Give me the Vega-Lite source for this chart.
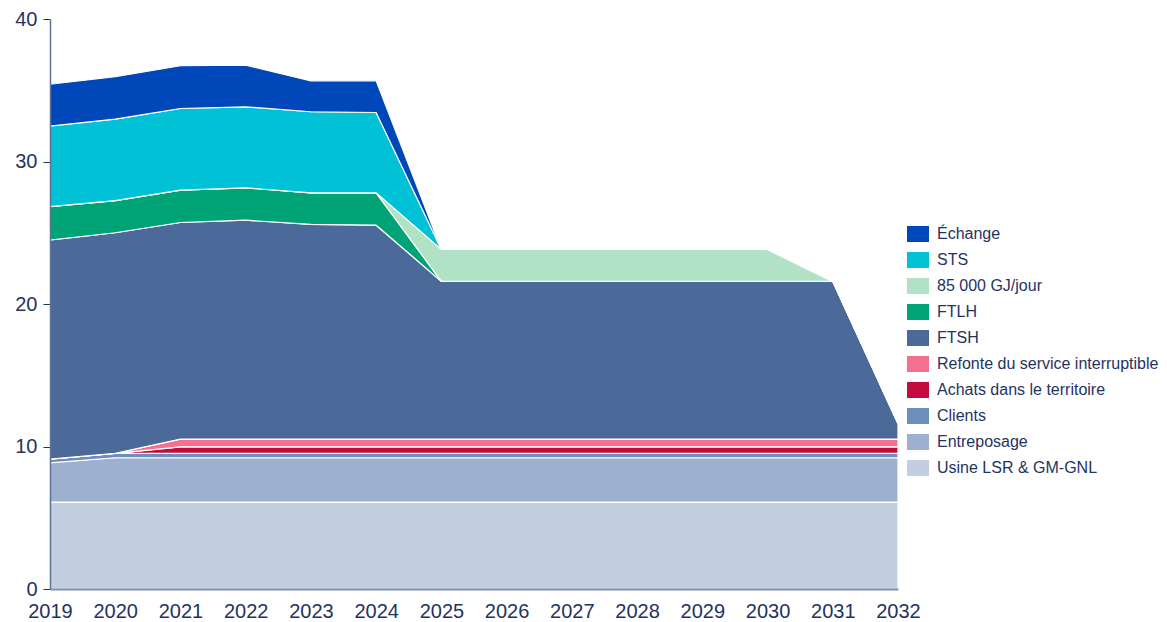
{
  "$schema": "https://vega.github.io/schema/vega-lite/v6.json",
  "width": 848,
  "height": 570,
  "autosize": {"type": "none"},
  "padding": {"left": 50, "top": 19, "right": 269, "bottom": 33},
  "background": "white",
  "config": {
    "view": {"stroke": null},
    "font": "Liberation Sans"
  },
  "data": {
    "values": [
      {"year": 2019, "series": "Usine LSR & GM-GNL", "value": 6.1},
      {"year": 2020, "series": "Usine LSR & GM-GNL", "value": 6.1},
      {"year": 2021, "series": "Usine LSR & GM-GNL", "value": 6.1},
      {"year": 2022, "series": "Usine LSR & GM-GNL", "value": 6.1},
      {"year": 2023, "series": "Usine LSR & GM-GNL", "value": 6.1},
      {"year": 2024, "series": "Usine LSR & GM-GNL", "value": 6.1},
      {"year": 2025, "series": "Usine LSR & GM-GNL", "value": 6.1},
      {"year": 2026, "series": "Usine LSR & GM-GNL", "value": 6.1},
      {"year": 2027, "series": "Usine LSR & GM-GNL", "value": 6.1},
      {"year": 2028, "series": "Usine LSR & GM-GNL", "value": 6.1},
      {"year": 2029, "series": "Usine LSR & GM-GNL", "value": 6.1},
      {"year": 2030, "series": "Usine LSR & GM-GNL", "value": 6.1},
      {"year": 2031, "series": "Usine LSR & GM-GNL", "value": 6.1},
      {"year": 2032, "series": "Usine LSR & GM-GNL", "value": 6.1},

      {"year": 2019, "series": "Entreposage", "value": 2.76},
      {"year": 2020, "series": "Entreposage", "value": 3.11},
      {"year": 2021, "series": "Entreposage", "value": 3.11},
      {"year": 2022, "series": "Entreposage", "value": 3.11},
      {"year": 2023, "series": "Entreposage", "value": 3.11},
      {"year": 2024, "series": "Entreposage", "value": 3.11},
      {"year": 2025, "series": "Entreposage", "value": 3.11},
      {"year": 2026, "series": "Entreposage", "value": 3.11},
      {"year": 2027, "series": "Entreposage", "value": 3.11},
      {"year": 2028, "series": "Entreposage", "value": 3.11},
      {"year": 2029, "series": "Entreposage", "value": 3.11},
      {"year": 2030, "series": "Entreposage", "value": 3.11},
      {"year": 2031, "series": "Entreposage", "value": 3.11},
      {"year": 2032, "series": "Entreposage", "value": 3.11},

      {"year": 2019, "series": "Clients", "value": 0.26},
      {"year": 2020, "series": "Clients", "value": 0.31},
      {"year": 2021, "series": "Clients", "value": 0.31},
      {"year": 2022, "series": "Clients", "value": 0.31},
      {"year": 2023, "series": "Clients", "value": 0.31},
      {"year": 2024, "series": "Clients", "value": 0.31},
      {"year": 2025, "series": "Clients", "value": 0.31},
      {"year": 2026, "series": "Clients", "value": 0.31},
      {"year": 2027, "series": "Clients", "value": 0.31},
      {"year": 2028, "series": "Clients", "value": 0.31},
      {"year": 2029, "series": "Clients", "value": 0.31},
      {"year": 2030, "series": "Clients", "value": 0.31},
      {"year": 2031, "series": "Clients", "value": 0.31},
      {"year": 2032, "series": "Clients", "value": 0.31},

      {"year": 2019, "series": "Achats dans le territoire", "value": 0},
      {"year": 2020, "series": "Achats dans le territoire", "value": 0},
      {"year": 2021, "series": "Achats dans le territoire", "value": 0.46},
      {"year": 2022, "series": "Achats dans le territoire", "value": 0.46},
      {"year": 2023, "series": "Achats dans le territoire", "value": 0.46},
      {"year": 2024, "series": "Achats dans le territoire", "value": 0.46},
      {"year": 2025, "series": "Achats dans le territoire", "value": 0.46},
      {"year": 2026, "series": "Achats dans le territoire", "value": 0.46},
      {"year": 2027, "series": "Achats dans le territoire", "value": 0.46},
      {"year": 2028, "series": "Achats dans le territoire", "value": 0.46},
      {"year": 2029, "series": "Achats dans le territoire", "value": 0.46},
      {"year": 2030, "series": "Achats dans le territoire", "value": 0.46},
      {"year": 2031, "series": "Achats dans le territoire", "value": 0.46},
      {"year": 2032, "series": "Achats dans le territoire", "value": 0.46},

      {"year": 2019, "series": "Refonte du service interruptible", "value": 0},
      {"year": 2020, "series": "Refonte du service interruptible", "value": 0},
      {"year": 2021, "series": "Refonte du service interruptible", "value": 0.54},
      {"year": 2022, "series": "Refonte du service interruptible", "value": 0.54},
      {"year": 2023, "series": "Refonte du service interruptible", "value": 0.54},
      {"year": 2024, "series": "Refonte du service interruptible", "value": 0.54},
      {"year": 2025, "series": "Refonte du service interruptible", "value": 0.54},
      {"year": 2026, "series": "Refonte du service interruptible", "value": 0.54},
      {"year": 2027, "series": "Refonte du service interruptible", "value": 0.54},
      {"year": 2028, "series": "Refonte du service interruptible", "value": 0.54},
      {"year": 2029, "series": "Refonte du service interruptible", "value": 0.54},
      {"year": 2030, "series": "Refonte du service interruptible", "value": 0.54},
      {"year": 2031, "series": "Refonte du service interruptible", "value": 0.54},
      {"year": 2032, "series": "Refonte du service interruptible", "value": 0.54},

      {"year": 2019, "series": "FTSH", "value": 15.37},
      {"year": 2020, "series": "FTSH", "value": 15.48},
      {"year": 2021, "series": "FTSH", "value": 15.2},
      {"year": 2022, "series": "FTSH", "value": 15.36},
      {"year": 2023, "series": "FTSH", "value": 15.07},
      {"year": 2024, "series": "FTSH", "value": 15.01},
      {"year": 2025, "series": "FTSH", "value": 11.07},
      {"year": 2026, "series": "FTSH", "value": 11.07},
      {"year": 2027, "series": "FTSH", "value": 11.07},
      {"year": 2028, "series": "FTSH", "value": 11.07},
      {"year": 2029, "series": "FTSH", "value": 11.07},
      {"year": 2030, "series": "FTSH", "value": 11.07},
      {"year": 2031, "series": "FTSH", "value": 11.07},
      {"year": 2032, "series": "FTSH", "value": 1.1},

      {"year": 2019, "series": "FTLH", "value": 2.34},
      {"year": 2020, "series": "FTLH", "value": 2.25},
      {"year": 2021, "series": "FTLH", "value": 2.27},
      {"year": 2022, "series": "FTLH", "value": 2.27},
      {"year": 2023, "series": "FTLH", "value": 2.21},
      {"year": 2024, "series": "FTLH", "value": 2.27},
      {"year": 2025, "series": "FTLH", "value": 0},
      {"year": 2026, "series": "FTLH", "value": 0},
      {"year": 2027, "series": "FTLH", "value": 0},
      {"year": 2028, "series": "FTLH", "value": 0},
      {"year": 2029, "series": "FTLH", "value": 0},
      {"year": 2030, "series": "FTLH", "value": 0},
      {"year": 2031, "series": "FTLH", "value": 0},
      {"year": 2032, "series": "FTLH", "value": 0},

      {"year": 2019, "series": "85 000 GJ/jour", "value": 0},
      {"year": 2020, "series": "85 000 GJ/jour", "value": 0},
      {"year": 2021, "series": "85 000 GJ/jour", "value": 0},
      {"year": 2022, "series": "85 000 GJ/jour", "value": 0},
      {"year": 2023, "series": "85 000 GJ/jour", "value": 0},
      {"year": 2024, "series": "85 000 GJ/jour", "value": 0},
      {"year": 2025, "series": "85 000 GJ/jour", "value": 2.24},
      {"year": 2026, "series": "85 000 GJ/jour", "value": 2.24},
      {"year": 2027, "series": "85 000 GJ/jour", "value": 2.24},
      {"year": 2028, "series": "85 000 GJ/jour", "value": 2.24},
      {"year": 2029, "series": "85 000 GJ/jour", "value": 2.24},
      {"year": 2030, "series": "85 000 GJ/jour", "value": 2.24},
      {"year": 2031, "series": "85 000 GJ/jour", "value": 0},
      {"year": 2032, "series": "85 000 GJ/jour", "value": 0},

      {"year": 2019, "series": "STS", "value": 5.66},
      {"year": 2020, "series": "STS", "value": 5.73},
      {"year": 2021, "series": "STS", "value": 5.73},
      {"year": 2022, "series": "STS", "value": 5.69},
      {"year": 2023, "series": "STS", "value": 5.69},
      {"year": 2024, "series": "STS", "value": 5.64},
      {"year": 2025, "series": "STS", "value": 0},
      {"year": 2026, "series": "STS", "value": 0},
      {"year": 2027, "series": "STS", "value": 0},
      {"year": 2028, "series": "STS", "value": 0},
      {"year": 2029, "series": "STS", "value": 0},
      {"year": 2030, "series": "STS", "value": 0},
      {"year": 2031, "series": "STS", "value": 0},
      {"year": 2032, "series": "STS", "value": 0},

      {"year": 2019, "series": "Échange", "value": 2.93},
      {"year": 2020, "series": "Échange", "value": 2.97},
      {"year": 2021, "series": "Échange", "value": 3.0},
      {"year": 2022, "series": "Échange", "value": 2.92},
      {"year": 2023, "series": "Échange", "value": 2.17},
      {"year": 2024, "series": "Échange", "value": 2.22},
      {"year": 2025, "series": "Échange", "value": 0},
      {"year": 2026, "series": "Échange", "value": 0},
      {"year": 2027, "series": "Échange", "value": 0},
      {"year": 2028, "series": "Échange", "value": 0},
      {"year": 2029, "series": "Échange", "value": 0},
      {"year": 2030, "series": "Échange", "value": 0},
      {"year": 2031, "series": "Échange", "value": 0},
      {"year": 2032, "series": "Échange", "value": 0}
    ]
  },
  "transform": [
    {"calculate": "indexof(['Usine LSR & GM-GNL','Entreposage','Clients','Achats dans le territoire','Refonte du service interruptible','FTSH','FTLH','85 000 GJ/jour','STS','Échange'], datum.series)", "as": "stackOrder"}
  ],
  "mark": {"type": "area", "stroke": "white", "strokeWidth": 1.2, "strokeJoin": "miter", "opacity": 1},
  "encoding": {
    "x": {
      "field": "year",
      "type": "quantitative",
      "scale": {"domain": [2019, 2032], "nice": false, "zero": false},
      "axis": {
        "title": null,
        "values": [2019, 2020, 2021, 2022, 2023, 2024, 2025, 2026, 2027, 2028, 2029, 2030, 2031, 2032],
        "format": "d",
        "ticks": false,
        "grid": false,
        "labelPadding": 12,
        "labelFontSize": 20,
        "labelColor": "#1F3461",
        "labelFont": "Liberation Sans",
        "domainColor": "#7C8FB0",
        "domainWidth": 2,
        "labelFlush": false,
        "zindex": 1
      }
    },
    "y": {
      "field": "value",
      "type": "quantitative",
      "stack": "zero",
      "scale": {"domain": [0, 40], "nice": false},
      "axis": {
        "title": null,
        "values": [0, 10, 20, 30, 40],
        "grid": false,
        "tickSize": 7,
        "tickColor": "#1F3461",
        "labelPadding": 6,
        "labelFontSize": 20,
        "labelColor": "#1F3461",
        "labelFont": "Liberation Sans",
        "domainColor": "#5B739C",
        "domainWidth": 1.5,
        "zindex": 1
      }
    },
    "order": {"field": "stackOrder", "type": "quantitative", "sort": "ascending"},
    "color": {
      "field": "series",
      "type": "nominal",
      "scale": {
        "domain": ["Échange", "STS", "85 000 GJ/jour", "FTLH", "FTSH", "Refonte du service interruptible", "Achats dans le territoire", "Clients", "Entreposage", "Usine LSR & GM-GNL"],
        "range": ["#0047BA", "#00C1D6", "#B1E2C6", "#00A376", "#4B6A99", "#F4708F", "#C30C3E", "#6E8EBB", "#9EB0CF", "#C3CFE0"]
      },
      "legend": {
        "title": null,
        "orient": "none",
        "legendX": 857,
        "legendY": 204,
        "padding": 0,
        "symbolType": "M-1,-0.727L1,-0.727L1,0.727L-1,0.727Z",
        "symbolSize": 484,
        "symbolStrokeWidth": 0,
        "symbolOpacity": 1,
        "labelOffset": 8,
        "labelFontSize": 16,
        "labelFont": "Liberation Sans",
        "labelColor": "#1F3461",
        "labelLimit": 400,
        "rowPadding": 7
      }
    }
  }
}
